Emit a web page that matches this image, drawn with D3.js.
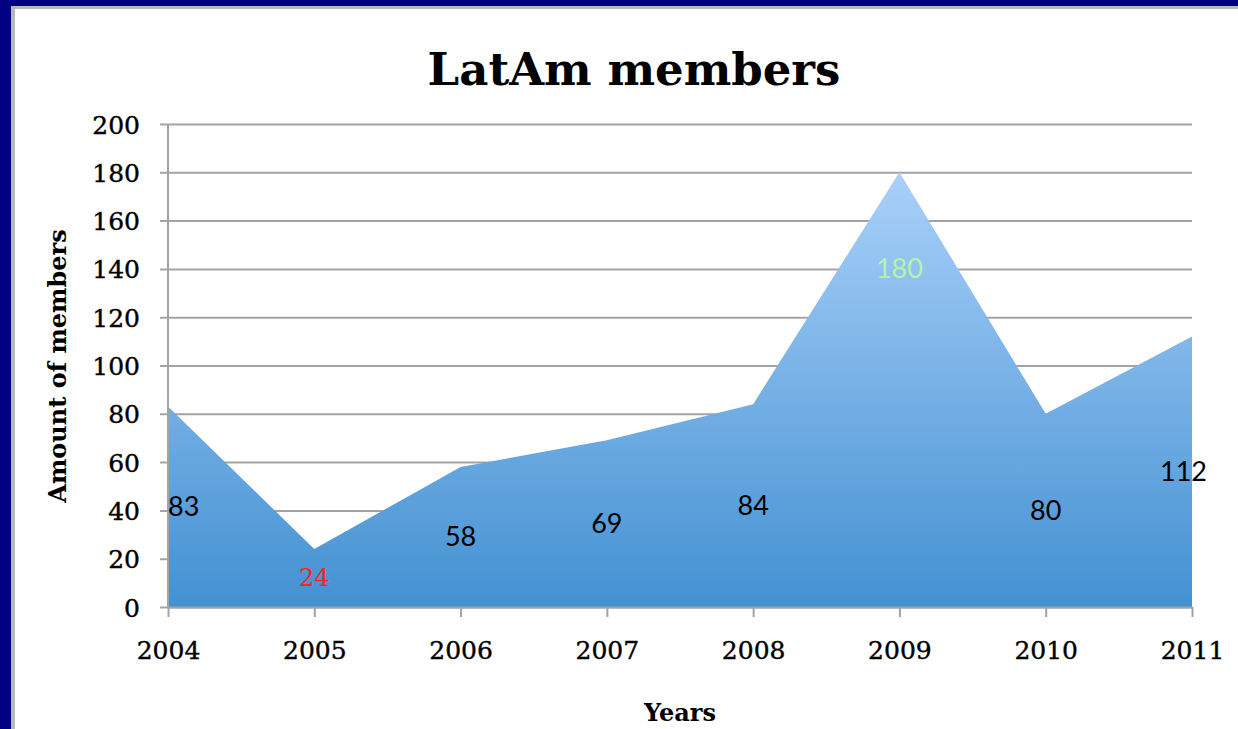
<!DOCTYPE html>
<html>
<head>
<meta charset="utf-8">
<script src="https://cdn.jsdelivr.net/npm/d3@7"></script>
<style>
html,body{margin:0;padding:0;background:#000080;}
svg{display:block;}
</style>
</head>
<body>
<script>
const years = ["2004","2005","2006","2007","2008","2009","2010","2011"];
const members = [83, 24, 58, 69, 84, 180, 80, 112];
const yTicks = [0,20,40,60,80,100,120,140,160,180,200];
const threshold = 100;
const chartTitle = "LatAm members";
const xTitle = "Years";
const yTitle = "Amount of members";

const W = 1238, H = 729;
const serif = "'DejaVu Serif', serif";
const svg = d3.select("body").append("svg").attr("width", W).attr("height", H);

// frame
svg.append("rect").attr("width", W).attr("height", H).attr("fill", "#000080");
svg.append("rect").attr("x", 11).attr("y", 6).attr("width", W - 11).attr("height", H - 6).attr("fill", "#b8b8b8");
svg.append("rect").attr("x", 15).attr("y", 9).attr("width", W - 15).attr("height", H - 9).attr("fill", "#ffffff");

const defs = svg.append("defs");
const x = d3.scalePoint().domain(years).range([168, 1192]);
const y = d3.scaleLinear().domain([0, 200]).range([607, 124]);

const grad = defs.append("linearGradient").attr("id", "areaGrad")
  .attr("gradientUnits", "userSpaceOnUse")
  .attr("x1", 0).attr("x2", 0).attr("y1", y(180)).attr("y2", y(0));
grad.append("stop").attr("offset", 0).attr("stop-color", "#a9d0f9");
grad.append("stop").attr("offset", 1).attr("stop-color", "#4391d2");

const shadow = defs.append("filter").attr("id", "shadow").attr("x", "-5%").attr("y", "-200%").attr("width", "110%").attr("height", "500%");
shadow.append("feDropShadow").attr("dx", 0).attr("dy", 3).attr("stdDeviation", 2.5).attr("flood-color", "#000").attr("flood-opacity", 0.35);

// gridlines + y axis
const yAxis = d3.axisLeft(y).tickValues(yTicks).tickSize(-(1192 - 160)).tickPadding(20).tickSizeOuter(0);
const gy = svg.append("g").attr("transform", "translate(160,0)").call(yAxis);
gy.select(".domain").remove();
gy.selectAll(".tick line").attr("stroke", "#a3a3a3").attr("stroke-width", 2);
gy.selectAll(".tick text")
  .attr("font-family", serif).attr("font-size", 25).attr("fill", "#000")
  .attr("stroke", "#000").attr("stroke-width", 0.4)
  .attr("dy", "0.36em");

// area
const area = d3.area().x((d, i) => x(years[i])).y0(y(0)).y1(d => y(d));
svg.append("path").datum(members).attr("d", area).attr("fill", "url(#areaGrad)");

// y axis line
svg.append("line").attr("x1", 168).attr("x2", 168).attr("y1", y(200)).attr("y2", y(0))
  .attr("stroke", "#a3a3a3").attr("stroke-width", 2);

// x axis
const xAxis = d3.axisBottom(x).tickSize(10).tickPadding(24).tickSizeOuter(0);
const gx = svg.append("g").attr("transform", `translate(0,${y(0)})`).call(xAxis);
gx.select(".domain").attr("stroke", "#a3a3a3").attr("stroke-width", 2);
gx.selectAll(".tick line").attr("stroke", "#a3a3a3").attr("stroke-width", 2);
gx.selectAll(".tick text")
  .attr("font-family", serif).attr("font-size", 25).attr("fill", "#000")
  .attr("stroke", "#000").attr("stroke-width", 0.4);

// threshold line
svg.append("line").attr("x1", 168).attr("x2", 1192).attr("y1", y(threshold)).attr("y2", y(threshold))
  .attr("stroke", "#ff2a1a").attr("stroke-width", 5).attr("filter", "url(#shadow)");

// data labels
const maxV = d3.max(members), minV = d3.min(members);
svg.append("g").selectAll("text").data(members).join("text")
  .attr("x", (d, i) => i === members.length - 1 ? x(years[i]) + 15 : x(years[i]))
  .attr("y", d => d === maxV ? y(d - 40) : y(d / 2))
  .attr("dy", "0.35em")
  .attr("text-anchor", (d, i) => i === 0 ? "start" : i === members.length - 1 ? "end" : "middle")
  .attr("font-family", d => d === minV ? serif : "Lato, 'Open Sans', sans-serif")
  .attr("font-size", d => d === minV ? 24 : 27)
  .attr("fill", d => d === minV ? "#ff2020" : d === maxV ? "#b6f3a6" : "#000")
  .text(d => d);

// titles
svg.append("text").attr("x", 634).attr("y", 85).attr("text-anchor", "middle")
  .attr("font-family", serif).attr("font-weight", "bold").attr("font-size", 45)
  .text(chartTitle);
svg.append("text").attr("x", 680).attr("y", 721).attr("text-anchor", "middle")
  .attr("font-family", serif).attr("font-weight", "bold").attr("font-size", 24)
  .text(xTitle);
svg.append("text").attr("transform", "translate(66,366) rotate(-90)").attr("text-anchor", "middle")
  .attr("font-family", serif).attr("font-weight", "bold").attr("font-size", 24)
  .text(yTitle);
</script>
</body>
</html>
